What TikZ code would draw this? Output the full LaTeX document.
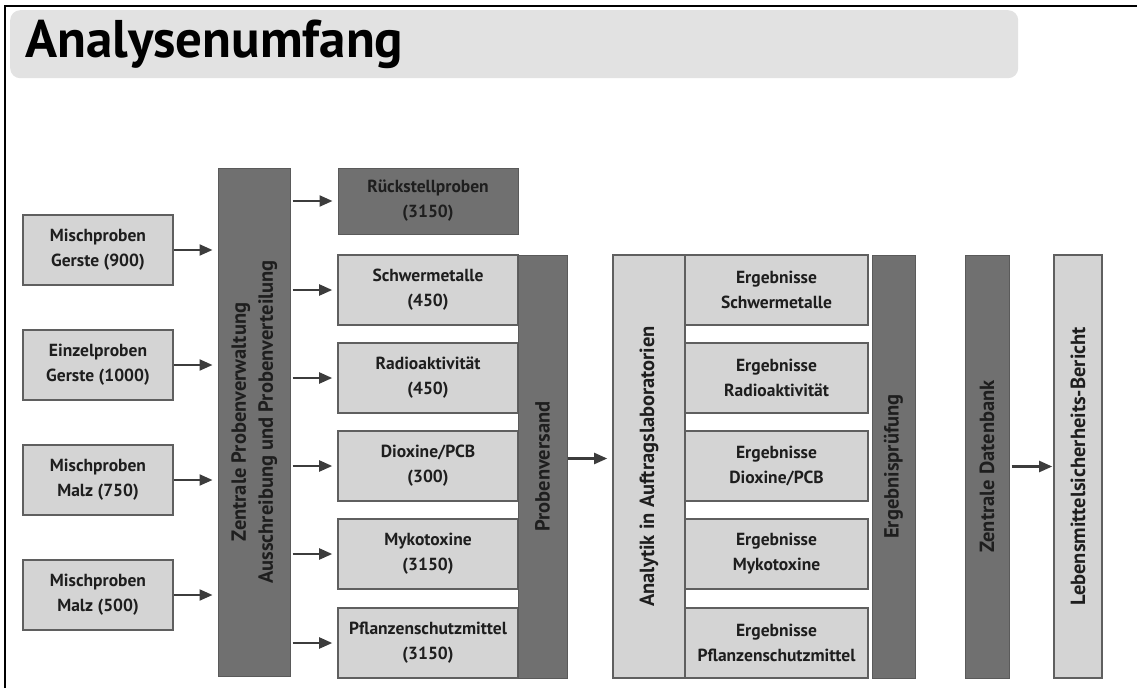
\documentclass[tikz,border=0pt]{standalone}
\usepackage{fontspec}
\usepackage{graphicx}
\setmainfont{PT Sans}
\usetikzlibrary{arrows.meta}

\definecolor{boxfill}{RGB}{212,212,212}
\definecolor{boxline}{RGB}{95,95,95}
\definecolor{barfill}{RGB}{112,112,112}
\definecolor{arrowgray}{RGB}{60,60,60}
\definecolor{bandgray}{RGB}{226,226,226}
\definecolor{textgray}{RGB}{30,30,30}

\newcommand\kastenfont{\fontsize{17.5}{25}\selectfont\bfseries}
\newcommand\hochfont{\fontsize{20.5}{27}\selectfont\bfseries}
\newcommand\titelfont{\fontsize{53}{60}\selectfont\bfseries}

\begin{document}
\begin{tikzpicture}[x=1pt,y=-1pt,
    box/.style={draw=boxline, fill=boxfill, line width=1.6pt, inner sep=0pt,
        align=center, text=textgray, font=\kastenfont},
    bar/.style={fill=barfill, draw=barfill!80!black, line width=1pt, inner sep=0pt,
        align=center, text=textgray, font=\kastenfont},
    arr/.style={-{Triangle[length=13pt,width=11pt]}, line width=2.2pt, draw=arrowgray}]
        \useasboundingbox (0,0) rectangle (1137,688);
        \draw[line width=2pt] (5,688) -- (5,6) -- (1137,6);

        % Titel
        \node[fill=bandgray, rounded corners=10pt, anchor=north west, minimum width=1008,
            minimum height=68, inner xsep=15pt, text width=978pt, align=left,
            font=\titelfont] (titel) at (10,10) {Analysenumfang};

        % Proben
        \node[box, minimum width=150, minimum height=70] (mg) at (98,250) {Mischproben\\Gerste (900)};
        \node[box, minimum width=150, minimum height=70] (eg) at (98,365) {Einzelproben\\Gerste (1000)};
        \node[box, minimum width=150, minimum height=70] (mm1) at (98,480) {Mischproben\\Malz (750)};
        \node[box, minimum width=150, minimum height=70] (mm2) at (98,595) {Mischproben\\Malz (500)};

        \node[bar, minimum width=72, minimum height=508, font=\hochfont] (zpv) at (254,422)
            {\rotatebox{90}{\begin{tabular}{@{}c@{}}Zentrale Probenverwaltung\\Ausschreibung und Probenverteilung\end{tabular}}};

        % Parameter
        \node[bar, minimum width=180, minimum height=66] (rs) at (428,201) {Rückstellproben\\(3150)};
        \node[box, minimum width=180, minimum height=70] (sm) at (428,290) {Schwermetalle\\(450)};
        \node[box, minimum width=180, minimum height=70] (ra) at (428,378) {Radioaktivität\\(450)};
        \node[box, minimum width=180, minimum height=70] (di) at (428,466) {Dioxine/PCB\\(300)};
        \node[box, minimum width=180, minimum height=70] (my) at (428,554) {Mykotoxine\\(3150)};
        \node[box, minimum width=180, minimum height=70] (pf) at (428,643) {Pflanzenschutzmittel\\(3150)};

        \node[bar, minimum width=49, minimum height=423, font=\hochfont] (pv) at (542.5,466.5) {\rotatebox{90}{Probenversand}};

        % Labore
        \node[box, minimum width=72, minimum height=423, font=\hochfont] (an) at (649,466.5) {\rotatebox{90}{Analytik in Auftragslaboratorien}};
        \node[box, minimum width=183, minimum height=70] (esm) at (776.5,290) {Ergebnisse\\Schwermetalle};
        \node[box, minimum width=183, minimum height=70] (era) at (776.5,378) {Ergebnisse\\Radioaktivität};
        \node[box, minimum width=183, minimum height=70] (edi) at (776.5,466) {Ergebnisse\\Dioxine/PCB};
        \node[box, minimum width=183, minimum height=70] (emy) at (776.5,554) {Ergebnisse\\Mykotoxine};
        \node[box, minimum width=183, minimum height=70] (epf) at (776.5,643) {Ergebnisse\\Pflanzenschutzmittel};

        \node[bar, minimum width=43, minimum height=423, font=\hochfont] (ep) at (893.5,466.5) {\rotatebox{90}{Ergebnisprüfung}};
        \node[bar, minimum width=44, minimum height=423, font=\hochfont] (zd) at (987,466.5) {\rotatebox{90}{Zentrale Datenbank}};
        \node[box, minimum width=48, minimum height=423, font=\hochfont] (lb) at (1078,466.5) {\rotatebox{90}{Lebensmittelsicherheits-Bericht}};

        % Pfeile
        \foreach \n in {mg,eg,mm1,mm2}
            \draw[arr, shorten >=5pt] (\n.east) -- (\n.east -| zpv.west);
        \foreach \n in {rs,sm,ra,di,my,pf}
            \draw[arr, shorten <=2pt, shorten >=5pt] (zpv.east |- \n.west) -- (\n.west);
        \draw[arr, shorten >=5pt] ([yshift=8pt]pv.east) -- ([yshift=8pt]an.west);
        \draw[arr, shorten <=2pt, shorten >=1pt] (zd.east) -- (lb.west);
    \end{tikzpicture}
\end{document}
